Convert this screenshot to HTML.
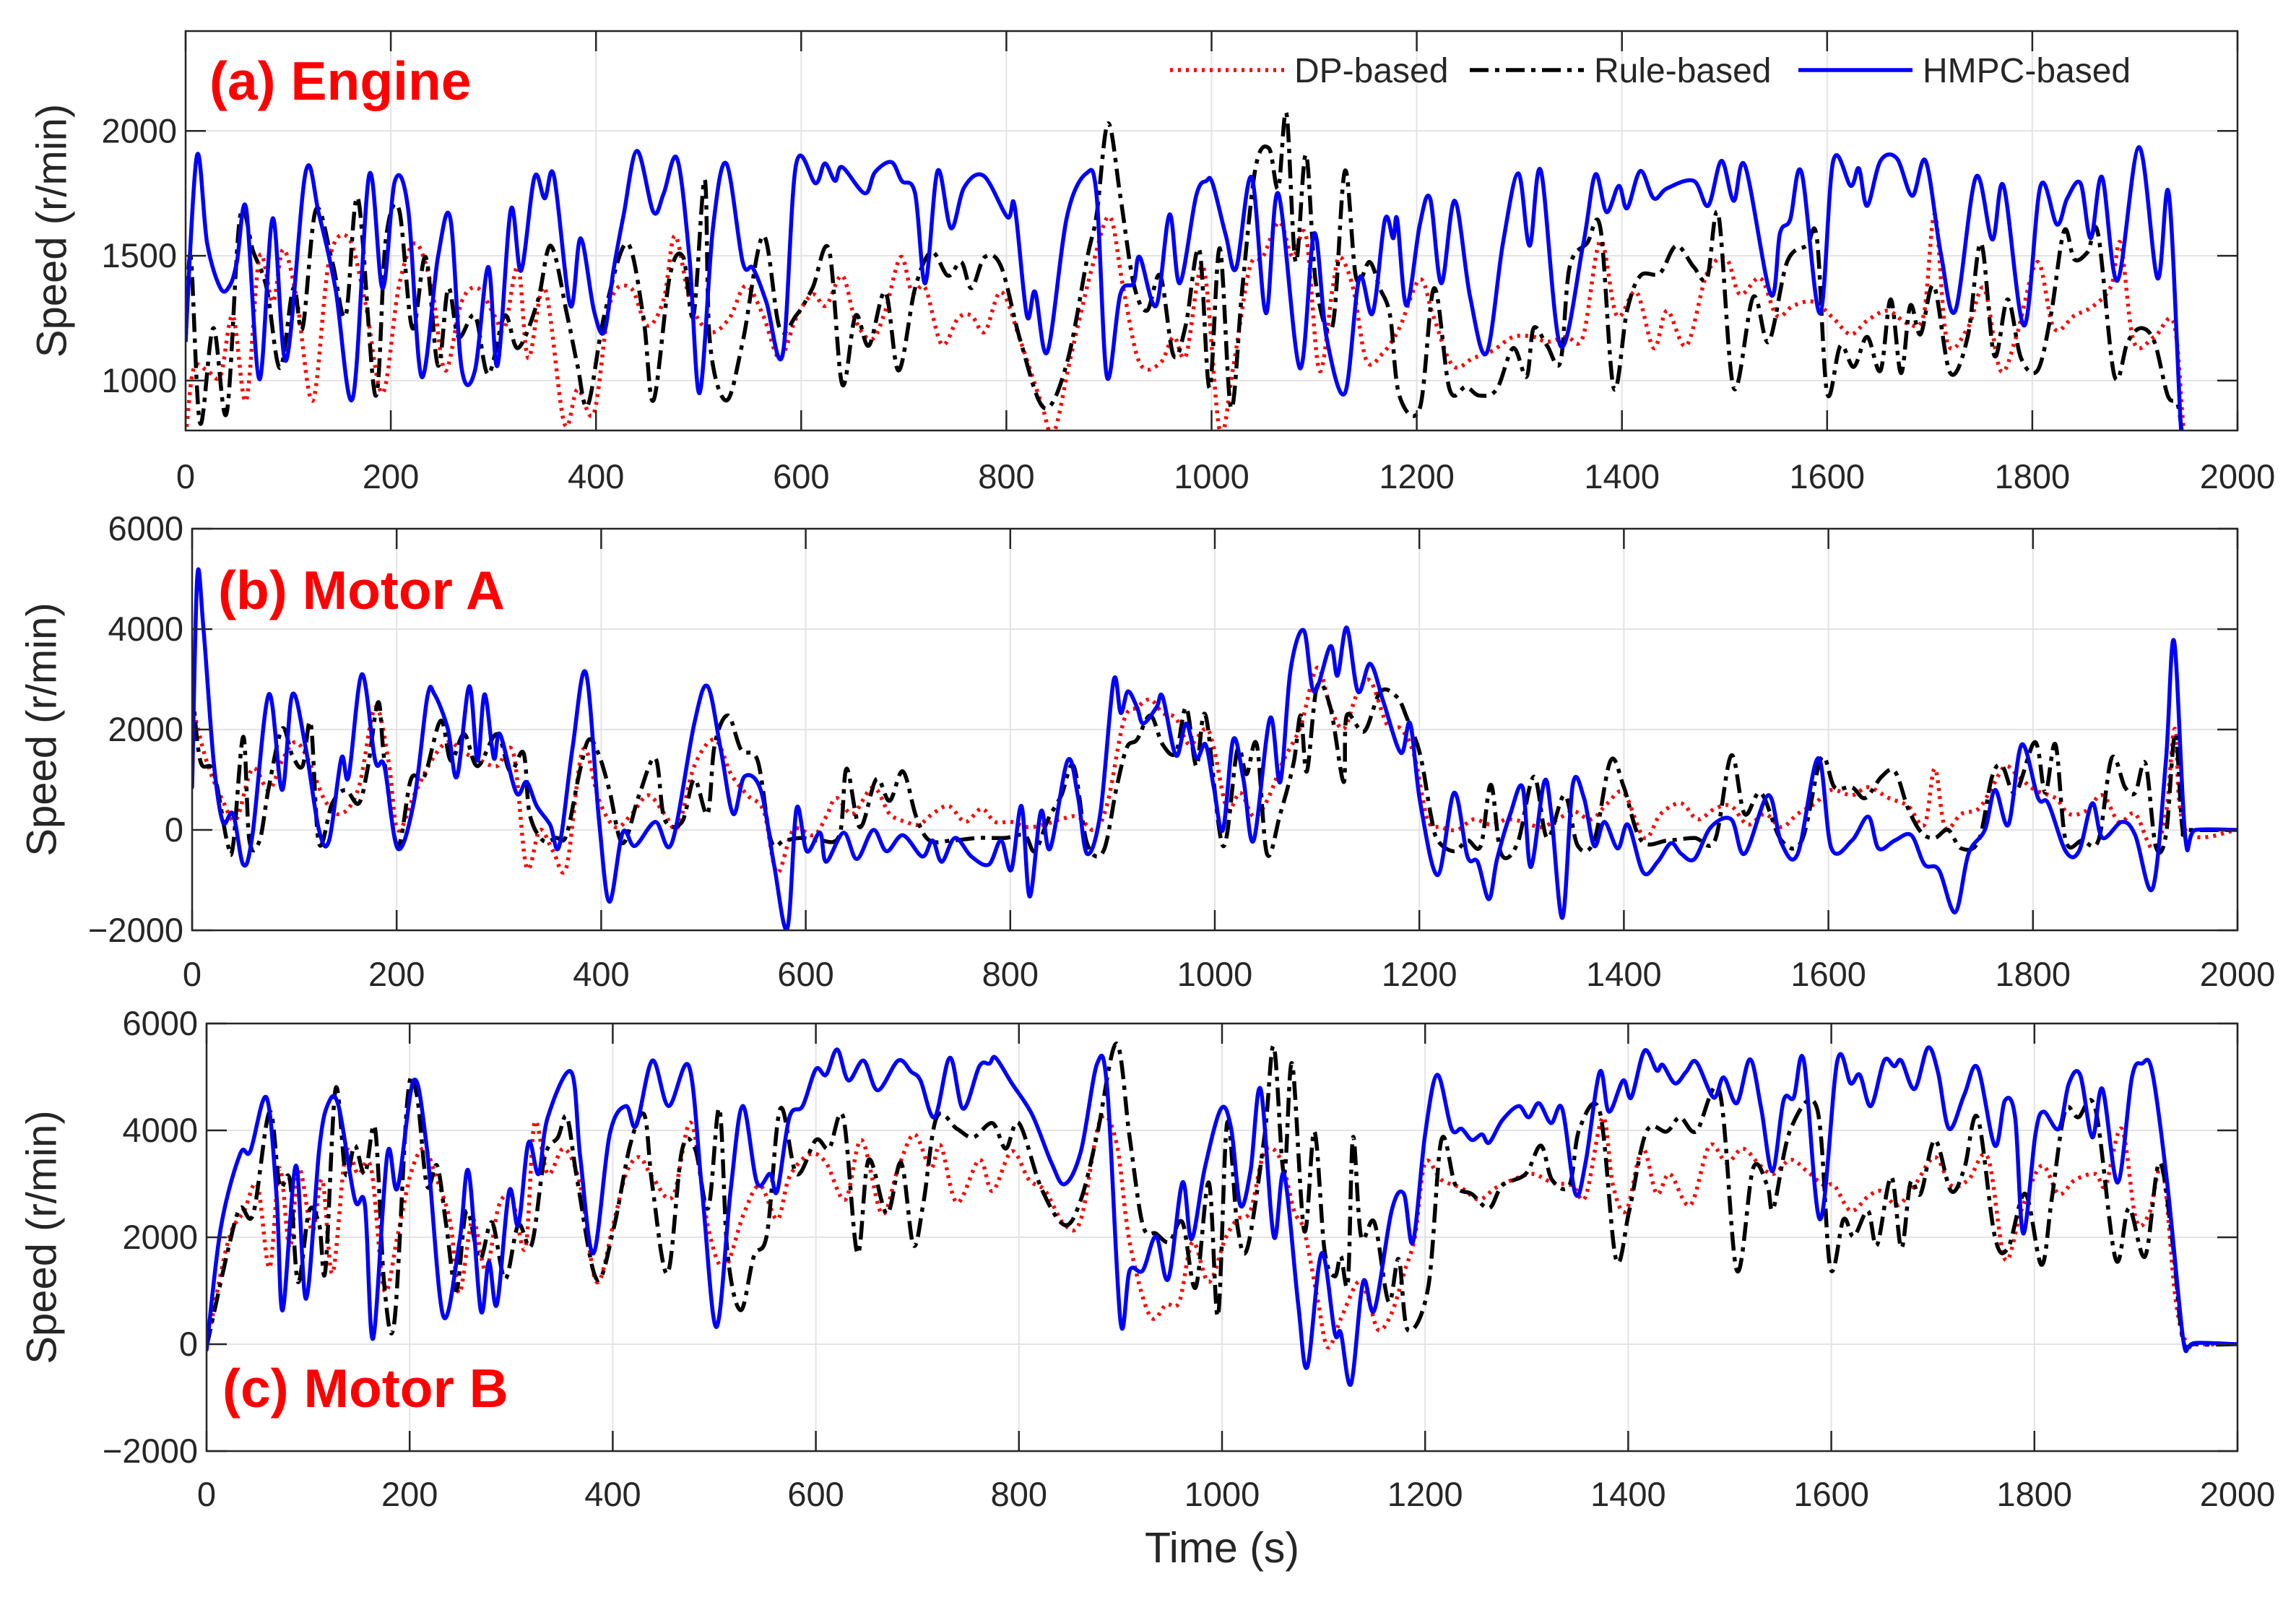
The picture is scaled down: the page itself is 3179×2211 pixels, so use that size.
<!DOCTYPE html>
<html><head><meta charset="utf-8"><style>
html,body{margin:0;padding:0;background:#fff;}
svg{display:block;font-family:"Liberation Sans",Arial,sans-serif;}
</style></head><body>
<svg id="fig" width="3179" height="2211" viewBox="0 0 3179 2211" xmlns="http://www.w3.org/2000/svg">
<rect width="3179" height="2211" fill="#fff"/>
</svg>
<script>
// ---------- data (time s, speed r/min) ----------
const xTicks = [0,200,400,600,800,1000,1200,1400,1600,1800,2000];
const engineTicks = [1000,1500,2000];
const motorTicks = [-2000,0,2000,4000,6000];
const seriesNames = ["DP-based","Rule-based","HMPC-based"];

const engineHMPC = [[0,1165],[11,1900],[21,1550],[34,1370],[43,1380],[50,1475],[59,1690],[72,1005],[85,1650],[98,1080],[117,1835],[130,1665],[146,1370],[163,930],[179,1825],[192,1370],[204,1800],[217,1685],[230,1015],[246,1495],[258,1650],[269,1050],[282,1040],[295,1455],[304,1060],[317,1685],[327,1440],[340,1815],[350,1730],[359,1820],[375,1300],[385,1570],[398,1280],[408,1195],[417,1440],[427,1665],[440,1920],[456,1675],[466,1750],[479,1890],[491,1495],[501,950],[514,1610],[527,1870],[543,1475],[553,1450],[566,1315],[582,1105],[595,1865],[614,1790],[623,1870],[633,1800],[640,1855],[662,1750],[672,1835],[688,1875],[698,1800],[711,1750],[721,1390],[733,1840],[746,1610],[759,1775],[778,1820],[801,1655],[808,1700],[820,1260],[828,1355],[840,1115],[859,1655],[878,1830],[888,1740],[898,1015],[911,1345],[924,1390],[930,1495],[946,1300],[959,1665],[969,1390],[985,1740],[995,1800],[1001,1790],[1014,1580],[1024,1450],[1039,1815],[1053,1270],[1065,1750],[1086,1050],[1100,1590],[1112,1175],[1130,950],[1144,1410],[1157,1270],[1169,1645],[1177,1570],[1181,1645],[1190,1300],[1203,1625],[1213,1730],[1224,1390],[1237,1720],[1252,1335],[1268,1110],[1284,1550],[1299,1830],[1310,1540],[1321,1840],[1340,1140],[1362,1540],[1374,1825],[1385,1675],[1397,1780],[1405,1690],[1418,1840],[1431,1730],[1444,1770],[1470,1800],[1484,1700],[1497,1880],[1509,1720],[1520,1860],[1545,1345],[1554,1590],[1564,1645],[1575,1835],[1593,1270],[1606,1880],[1623,1780],[1631,1850],[1639,1700],[1652,1880],[1668,1890],[1683,1740],[1696,1880],[1711,1505],[1725,1280],[1745,1815],[1761,1565],[1772,1780],[1792,1220],[1808,1780],[1824,1625],[1834,1730],[1847,1790],[1857,1570],[1868,1815],[1883,1400],[1904,1935],[1922,1410],[1933,1750],[1945,800],[1950,700]];
const engineRule = [[0,1155],[5,1495],[14,830],[27,1210],[40,870],[53,1655],[66,1515],[79,1370],[92,1050],[105,1370],[114,1210],[127,1685],[143,1475],[156,1260],[168,1730],[185,940],[195,1560],[208,1685],[221,1210],[234,1495],[246,1060],[256,1370],[266,1175],[282,1260],[295,1025],[311,1260],[324,1130],[343,1315],[356,1540],[372,1260],[382,1060],[392,900],[408,1260],[430,1550],[446,1260],[456,920],[472,1420],[485,1495],[495,1260],[506,1805],[511,1155],[527,920],[543,1155],[563,1580],[579,1210],[595,1260],[611,1370],[627,1525],[640,985],[653,1260],[666,1140],[682,1355],[695,1040],[711,1370],[727,1515],[743,1420],[756,1475],[766,1370],[779,1495],[795,1455],[814,1155],[837,890],[859,1070],[879,1495],[888,1665],[899,2030],[911,1740],[924,1390],[937,1280],[950,1420],[963,1100],[975,1225],[988,1525],[998,970],[1008,1530],[1019,890],[1030,1370],[1043,1855],[1056,1930],[1065,1770],[1073,2070],[1082,1475],[1092,1905],[1102,1380],[1118,1220],[1130,1840],[1141,1410],[1154,1475],[1164,1370],[1174,1260],[1183,940],[1203,890],[1217,1370],[1232,965],[1248,975],[1261,940],[1278,965],[1294,1130],[1307,1015],[1314,1210],[1327,1140],[1340,1075],[1349,1455],[1366,1550],[1379,1610],[1392,970],[1405,1280],[1418,1420],[1437,1430],[1453,1540],[1470,1455],[1483,1410],[1494,1665],[1509,970],[1528,1335],[1543,1155],[1561,1475],[1580,1540],[1590,1570],[1600,950],[1613,1140],[1626,1055],[1639,1175],[1652,1040],[1662,1325],[1672,1030],[1681,1300],[1691,1185],[1704,1380],[1720,1030],[1737,1175],[1750,1550],[1763,1100],[1776,1325],[1789,1090],[1805,1040],[1818,1260],[1831,1600],[1841,1485],[1854,1515],[1864,1590],[1880,1020],[1893,1155],[1906,1210],[1919,1155],[1932,940],[1942,900],[1948,700]];
const engineDP = [[1,815],[8,1050],[21,1040],[34,1020],[46,1260],[59,920],[72,1495],[85,1315],[95,1525],[108,1335],[124,920],[140,1485],[159,1570],[175,1315],[192,950],[208,1380],[224,1550],[240,1370],[253,1040],[269,1315],[285,1370],[301,1260],[311,1210],[324,1455],[334,1090],[350,1370],[369,830],[382,965],[398,870],[414,1315],[434,1370],[450,1220],[466,1325],[477,1580],[492,1315],[511,1195],[530,1250],[546,1380],[563,1260],[579,1090],[595,1250],[611,1345],[624,1300],[640,1420],[653,1240],[669,1165],[682,1280],[697,1495],[708,1355],[721,1370],[737,1145],[753,1250],[766,1260],[779,1195],[795,1355],[814,1155],[834,910],[846,790],[863,1100],[885,1475],[901,1655],[914,1370],[930,1070],[950,1070],[963,1175],[975,1100],[992,1455],[1008,800],[1021,1050],[1037,1450],[1050,1495],[1066,1635],[1079,1495],[1092,1580],[1105,1040],[1118,1370],[1125,1495],[1138,1370],[1151,1080],[1167,1110],[1183,1210],[1203,1405],[1216,1260],[1235,1060],[1255,1090],[1274,1120],[1294,1175],[1314,1175],[1327,1155],[1346,1175],[1362,1175],[1379,1560],[1395,1260],[1414,1355],[1431,1130],[1444,1280],[1463,1140],[1483,1430],[1502,1485],[1515,1345],[1535,1410],[1551,1260],[1567,1300],[1587,1315],[1606,1250],[1623,1185],[1639,1240],[1659,1280],[1678,1230],[1694,1260],[1705,1665],[1717,1155],[1737,1210],[1753,1370],[1769,1040],[1785,1185],[1805,1475],[1821,1210],[1841,1260],[1860,1300],[1877,1380],[1886,1550],[1899,1155],[1919,1175],[1938,1230],[1948,795],[1955,795],[2000,795]];

const motorAHMPC = [[0,850],[5,5035],[11,4030],[21,1380],[30,160],[40,320],[50,-690],[59,-105],[75,2700],[88,795],[98,2700],[111,1640],[124,0],[134,-210],[146,1430],[153,1060],[166,3100],[179,1380],[188,1270],[201,-370],[217,580],[230,2650],[237,2700],[250,2015],[259,1060],[271,2860],[279,1380],[286,2700],[295,1430],[301,1910],[317,740],[327,955],[337,475],[350,105],[359,-320],[372,1640],[385,3130],[398,160],[408,-1430],[421,-55],[433,-320],[453,160],[469,-265],[491,2120],[504,2860],[517,1590],[529,320],[540,1060],[556,795],[569,-690],[582,-1960],[591,425],[601,-425],[614,-55],[620,-635],[637,-55],[650,-580],[666,0],[679,-425],[695,-105],[714,-530],[724,-210],[733,-635],[746,-160],[762,-530],[779,-690],[791,-210],[801,-795],[811,475],[819,-1325],[830,370],[839,-370],[856,1380],[866,690],[875,-475],[888,320],[901,2970],[908,2330],[915,2760],[924,2440],[930,2120],[943,2440],[949,2650],[962,1480],[972,2120],[982,1430],[991,1700],[999,850],[1008,0],[1018,1800],[1028,1010],[1038,-210],[1054,2225],[1064,955],[1074,3180],[1087,3975],[1097,2755],[1113,3660],[1120,3075],[1129,4030],[1140,2755],[1152,3310],[1165,2545],[1182,1535],[1191,2120],[1201,530],[1218,-900],[1234,740],[1247,-530],[1257,-635],[1268,-1380],[1276,-580],[1289,320],[1301,850],[1309,-740],[1322,955],[1329,320],[1340,-1750],[1350,900],[1361,635],[1371,-320],[1381,160],[1394,-370],[1404,105],[1419,-850],[1433,-635],[1446,-265],[1456,-475],[1469,-580],[1485,55],[1505,210],[1518,-475],[1541,690],[1554,-265],[1570,-475],[1590,1430],[1603,-370],[1623,-210],[1639,265],[1649,-370],[1665,-210],[1681,-105],[1694,-690],[1708,-795],[1724,-1640],[1737,-475],[1753,0],[1763,795],[1776,105],[1789,1700],[1805,635],[1815,530],[1832,-425],[1845,-425],[1858,530],[1868,-160],[1887,160],[1900,-105],[1917,-1165],[1930,1380],[1938,3760],[1949,-160],[1959,0],[2000,0]];
const motorARule = [[0,2860],[8,1380],[21,1165],[34,-210],[40,-320],[50,1855],[56,-210],[66,-210],[75,850],[88,2015],[98,1480],[108,1270],[116,2120],[124,-265],[137,530],[150,795],[163,530],[172,1270],[182,2545],[188,1380],[201,-320],[214,1010],[227,1060],[243,2175],[253,1380],[266,1910],[279,1270],[298,1910],[311,1165],[324,1535],[330,320],[343,-210],[356,-160],[366,-105],[379,1165],[388,1800],[398,1480],[408,795],[421,-265],[437,690],[453,1430],[462,210],[479,160],[491,1010],[504,320],[511,1700],[524,2280],[537,1590],[553,1380],[566,-210],[579,-210],[595,-160],[614,-210],[633,-105],[640,1220],[653,55],[669,1010],[682,580],[695,1165],[708,265],[721,-210],[743,-210],[769,-160],[795,-160],[814,-105],[824,-425],[837,210],[850,690],[862,1270],[875,-265],[891,-425],[904,850],[914,1640],[924,1800],[937,2280],[949,1700],[962,1535],[972,2440],[982,1270],[991,2280],[1008,-320],[1022,1590],[1031,1110],[1041,1700],[1051,-475],[1064,320],[1077,1325],[1084,2280],[1090,1165],[1100,2860],[1113,2440],[1126,955],[1129,2280],[1146,1960],[1162,2755],[1178,2650],[1188,2225],[1201,1485],[1211,320],[1218,-210],[1234,-425],[1247,-210],[1260,-320],[1270,900],[1280,-475],[1296,-265],[1312,1060],[1325,-160],[1342,690],[1355,-320],[1371,-210],[1387,1380],[1400,850],[1417,-210],[1443,-210],[1469,-160],[1489,-210],[1505,1485],[1518,320],[1534,740],[1554,-210],[1574,-210],[1593,1430],[1606,850],[1623,850],[1636,635],[1652,1060],[1665,1165],[1678,425],[1691,-55],[1704,-160],[1717,0],[1730,-370],[1747,-210],[1760,1060],[1770,1270],[1783,740],[1802,1750],[1812,740],[1822,1700],[1832,-210],[1848,-210],[1864,-210],[1877,1430],[1890,850],[1900,740],[1910,1325],[1920,-320],[1930,-105],[1939,1910],[1946,55],[1952,0],[2000,0]];
const motorADP = [[0,2490],[14,1380],[30,580],[43,210],[59,1220],[75,795],[88,1380],[101,1750],[114,1380],[130,580],[146,320],[163,850],[179,2440],[192,1380],[201,0],[217,690],[234,1380],[250,1750],[266,1540],[282,1380],[298,1270],[314,1535],[327,-740],[340,0],[353,-425],[366,-740],[382,1590],[398,580],[414,55],[430,320],[446,690],[462,320],[475,55],[491,1270],[511,1800],[527,1110],[543,690],[559,370],[572,-850],[588,0],[608,-105],[620,265],[630,635],[646,320],[666,850],[682,320],[698,160],[711,105],[724,320],[740,475],[756,160],[772,425],[785,160],[801,160],[817,55],[833,105],[849,210],[866,265],[882,0],[895,530],[911,2175],[924,2440],[937,2600],[949,2330],[962,2225],[975,1700],[991,2015],[999,1640],[1012,425],[1025,740],[1038,265],[1051,580],[1067,1380],[1084,2070],[1100,3230],[1113,2440],[1126,2015],[1139,2700],[1152,2970],[1169,2070],[1182,2015],[1195,1485],[1208,210],[1221,55],[1237,0],[1253,210],[1270,105],[1286,210],[1302,160],[1319,55],[1335,210],[1351,370],[1368,210],[1384,530],[1400,740],[1420,-160],[1436,320],[1456,530],[1472,210],[1489,425],[1505,475],[1521,105],[1538,320],[1554,55],[1570,320],[1587,530],[1603,795],[1623,690],[1639,850],[1659,635],[1678,475],[1694,105],[1704,1220],[1714,55],[1730,320],[1747,425],[1760,850],[1773,1270],[1786,1060],[1802,795],[1822,635],[1835,320],[1851,370],[1868,690],[1884,160],[1900,320],[1917,-370],[1930,320],[1939,2015],[1949,0],[2000,0]];

const motorBHMPC = [[0,-105],[14,2175],[33,3555],[43,3610],[59,4615],[69,2760],[75,635],[88,3340],[98,850],[111,3660],[120,4510],[130,4455],[146,2705],[156,2600],[164,105],[178,3555],[188,2920],[204,4935],[217,3660],[233,530],[249,1910],[258,3235],[270,635],[278,1540],[286,745],[298,2865],[307,2230],[317,3770],[327,3185],[336,4245],[359,5095],[368,3500],[381,1700],[397,3925],[413,4455],[423,4085],[439,5305],[455,4455],[475,5200],[488,2865],[502,320],[516,2865],[528,4455],[542,3025],[555,3185],[562,2865],[574,4245],[587,4455],[600,5145],[610,5040],[621,5515],[632,4935],[647,5305],[661,4750],[681,5305],[694,5095],[703,4935],[717,4245],[732,5360],[745,4405],[761,5200],[771,5250],[777,5360],[793,4880],[813,4295],[832,3395],[845,2995],[861,3610],[877,5250],[887,4775],[900,425],[909,1380],[922,1380],[935,2015],[947,1220],[961,3025],[970,1965],[983,3290],[999,4405],[1009,4030],[1018,2600],[1028,3235],[1038,4775],[1051,2015],[1061,3185],[1075,745],[1084,-425],[1098,1700],[1111,210],[1117,210],[1127,-745],[1139,1165],[1150,635],[1167,2495],[1179,2815],[1188,1910],[1200,3925],[1212,5040],[1226,4030],[1236,4030],[1246,3820],[1256,3925],[1263,3770],[1276,4190],[1292,4455],[1302,4245],[1312,4510],[1324,4135],[1335,4405],[1348,2815],[1358,3395],[1372,5095],[1381,4350],[1395,4935],[1403,4615],[1416,5490],[1428,5120],[1434,5225],[1446,4880],[1457,5095],[1467,5280],[1484,4615],[1494,4990],[1507,4510],[1520,5330],[1531,4405],[1542,3235],[1553,4560],[1563,4615],[1573,5305],[1589,2335],[1606,5305],[1619,4880],[1628,5040],[1639,4455],[1652,5305],[1662,5200],[1669,5305],[1682,4775],[1695,5545],[1705,5095],[1716,4030],[1731,4670],[1744,5175],[1761,3715],[1771,4560],[1781,4245],[1789,2070],[1801,3925],[1809,4350],[1824,4030],[1834,4880],[1845,5040],[1857,3870],[1867,4775],[1882,3025],[1896,4990],[1906,5250],[1916,5095],[1931,2970],[1946,160],[1952,-55],[1959,25],[2000,0]];
const motorBRule = [[0,-55],[21,1750],[33,2545],[46,2440],[62,4350],[72,2970],[82,3075],[90,1165],[101,2495],[111,2230],[117,1380],[127,4775],[137,3185],[146,3715],[156,3185],[166,4030],[175,1115],[185,425],[198,4615],[207,4670],[217,2970],[227,3340],[236,2230],[246,1010],[256,2495],[269,1590],[281,2280],[294,1220],[307,2230],[320,1855],[333,3500],[346,3870],[355,4245],[365,3075],[384,1220],[401,2175],[417,3715],[431,4295],[439,2970],[454,1325],[468,3610],[481,3660],[494,2545],[505,4405],[513,1700],[526,635],[539,1645],[552,2070],[565,4405],[581,3185],[600,3820],[613,3660],[627,4245],[641,1700],[652,3450],[670,2440],[684,3395],[696,1855],[706,2650],[719,4245],[739,4030],[755,3870],[774,4135],[787,3660],[800,4135],[822,2920],[845,2230],[861,2705],[877,3925],[896,5625],[909,3870],[922,2230],[935,2070],[948,1910],[961,2280],[974,1060],[987,3025],[996,530],[1005,4135],[1015,2230],[1025,1800],[1042,3925],[1051,5570],[1061,3185],[1069,5250],[1081,2120],[1091,3980],[1101,1750],[1111,1270],[1117,1645],[1124,1165],[1129,3870],[1137,2015],[1150,2280],[1164,795],[1174,1590],[1183,265],[1203,1060],[1216,3820],[1230,2970],[1246,2810],[1263,2545],[1276,2970],[1299,3185],[1314,3715],[1325,3075],[1342,2970],[1352,4030],[1372,4350],[1388,1590],[1401,2495],[1418,3980],[1438,3980],[1451,4245],[1467,3980],[1490,4720],[1507,1380],[1523,3290],[1537,2970],[1543,2545],[1560,4030],[1586,4405],[1599,1430],[1612,2335],[1622,2015],[1636,2495],[1645,1855],[1659,3130],[1669,1800],[1678,3025],[1688,2815],[1702,3820],[1718,2865],[1731,3290],[1744,4245],[1761,2015],[1774,1800],[1791,2815],[1807,1485],[1817,2705],[1830,4350],[1843,4245],[1860,4405],[1880,1590],[1893,2545],[1909,1645],[1923,3395],[1936,1910],[1946,105],[1959,0],[2000,0]];
const motorBDP = [[0,-55],[21,1910],[37,2495],[50,2970],[62,1430],[72,3290],[82,1800],[91,3290],[104,2120],[114,3075],[124,1325],[137,3555],[149,3185],[162,3290],[175,1010],[188,2015],[201,3185],[214,3660],[227,3075],[240,2280],[249,955],[262,2335],[275,1380],[288,2600],[301,2705],[314,1800],[323,4140],[336,3185],[352,3660],[368,2970],[384,1165],[401,2280],[413,3185],[426,3500],[439,3130],[459,2760],[477,4140],[494,2175],[510,1430],[529,2440],[545,2970],[562,2335],[574,3130],[594,3555],[610,3395],[629,2705],[645,3820],[665,2440],[681,3290],[697,3925],[713,3290],[723,3715],[739,2650],[761,3450],[774,2865],[793,3610],[810,3075],[826,2865],[845,2230],[861,2335],[880,4190],[896,3770],[909,1910],[929,530],[945,740],[958,795],[971,1910],[987,1165],[1003,1965],[1015,2335],[1028,2495],[1042,3610],[1058,3450],[1071,2495],[1081,2120],[1094,850],[1104,-55],[1117,475],[1134,1165],[1144,850],[1154,265],[1167,580],[1180,1380],[1190,2015],[1200,3395],[1216,3075],[1236,2920],[1253,2705],[1269,2920],[1286,3075],[1306,3185],[1325,3025],[1345,2970],[1358,2760],[1375,4245],[1385,2970],[1398,2495],[1414,3660],[1428,2815],[1441,3185],[1461,2600],[1480,3715],[1497,3395],[1513,3660],[1530,3340],[1543,3185],[1560,3450],[1576,3235],[1593,2970],[1603,2970],[1619,2495],[1636,2760],[1649,2865],[1665,2600],[1682,2970],[1702,3500],[1718,2970],[1735,3075],[1754,3500],[1771,1590],[1787,2495],[1807,3340],[1824,2810],[1840,3075],[1860,3185],[1870,2970],[1886,4030],[1900,2335],[1913,2440],[1926,3290],[1939,850],[1949,55],[1959,0],[2000,0]];

// ---------- layout ----------
const NS = "http://www.w3.org/2000/svg";
const svg = document.getElementById("fig");
function mk(tag, attrs, parent){ const e=document.createElementNS(NS,tag); for(const k in attrs) e.setAttribute(k,attrs[k]); (parent||svg).appendChild(e); return e; }

function smoothPath(pts){
  if (!pts.length) return "";
  let d = "M" + pts[0][0].toFixed(1) + "," + pts[0][1].toFixed(1);
  for (let i = 0; i < pts.length - 1; i++) {
    const p0 = pts[i-1] || pts[i], p1 = pts[i], p2 = pts[i+1], p3 = pts[i+2] || p2;
    const c1x = p1[0] + (p2[0]-p0[0])/6, c1y = p1[1] + (p2[1]-p0[1])/6;
    const c2x = p2[0] - (p3[0]-p1[0])/6, c2y = p2[1] - (p3[1]-p1[1])/6;
    d += " C" + c1x.toFixed(1)+","+c1y.toFixed(1)+" "+c2x.toFixed(1)+","+c2y.toFixed(1)+" "+p2[0].toFixed(1)+","+p2[1].toFixed(1);
  }
  return d;
}

const panelDefs = [
  {id:"engine", left:257, right:3098, top:43, bottom:596, ymin:800, ymax:2400, yticks:engineTicks, grid:engineTicks, ylabX:72, xlabY:676, title:"(a) Engine", titleX:290, titleY:138,
   series:[engineDP, engineRule, engineHMPC]},
  {id:"motor-a", left:266, right:3098, top:732, bottom:1288, ymin:-2000, ymax:6000, yticks:motorTicks, grid:[0,2000,4000], ylabX:58, xlabY:1365, title:"(b) Motor A", titleX:302, titleY:843,
   series:[motorADP, motorARule, motorAHMPC]},
  {id:"motor-b", left:286, right:3098, top:1417, bottom:2009, ymin:-2000, ymax:6000, yticks:motorTicks, grid:[0,2000,4000], ylabX:58, xlabY:2085, title:"(c) Motor B", titleX:308, titleY:1948,
   series:[motorBDP, motorBRule, motorBHMPC]}
];
const styles = [
  {stroke:"#ff0000", width:5.5, dash:"4 7", cap:"butt", key:"dp"},
  {stroke:"#000000", width:5.5, dash:"26 9 6 9", cap:"butt", key:"rule"},
  {stroke:"#0000ff", width:5.5, dash:"", cap:"round", key:"hmpc"}
];

panelDefs.forEach((p, pi) => {
  const xS = t => p.left + (t/2000)*(p.right-p.left);
  const yS = v => p.bottom - (v-p.ymin)/(p.ymax-p.ymin)*(p.bottom-p.top);
  const g = mk("g", {});
  
  
  xTicks.forEach(t => {
    const l = mk("line", {x1:xS(t), x2:xS(t), y1:p.top, y2:p.bottom, stroke:"#e3e3e3", "stroke-width":2}, g);
    
    
  });
  p.grid.forEach(v => {
    const l = mk("line", {x1:p.left, x2:p.right, y1:yS(v), y2:yS(v), stroke:"#e3e3e3", "stroke-width":2}, g);
    
    
  });
  const cp = mk("clipPath", {id:"clip"+pi}, g);
  mk("rect", {x:p.left, y:p.top, width:p.right-p.left, height:p.bottom-p.top}, cp);
  p.series.forEach((data, si) => {
    const st = styles[si];
    const pts = data.map(d => [xS(d[0]), yS(d[1])]);
    const pl = mk("path", {d:smoothPath(pts), fill:"none", stroke:st.stroke, "stroke-width":st.width, "stroke-linejoin":"round", "stroke-linecap":st.cap, "clip-path":"url(#clip"+pi+")"}, g);
    if (st.dash) pl.setAttribute("stroke-dasharray", st.dash);
    
    
  });
  const box = mk("rect", {x:p.left, y:p.top, width:p.right-p.left, height:p.bottom-p.top, fill:"none", stroke:"#262626", "stroke-width":2.5}, g);
  
  
  xTicks.forEach(t => {
    mk("line", {x1:xS(t), x2:xS(t), y1:p.bottom, y2:p.bottom-28, stroke:"#262626", "stroke-width":2.5}, g);
    mk("line", {x1:xS(t), x2:xS(t), y1:p.top, y2:p.top+28, stroke:"#262626", "stroke-width":2.5}, g);
    const tx = mk("text", {x:xS(t), y:p.xlabY, "font-size":47, fill:"#262626", "text-anchor":"middle"}, g);
    tx.textContent = t;
    
    
  });
  p.yticks.forEach(v => {
    mk("line", {x1:p.left, x2:p.left+28, y1:yS(v), y2:yS(v), stroke:"#262626", "stroke-width":2.5}, g);
    mk("line", {x1:p.right, x2:p.right-28, y1:yS(v), y2:yS(v), stroke:"#262626", "stroke-width":2.5}, g);
    const tx = mk("text", {x:p.left-12, y:yS(v)+16, "font-size":47, fill:"#262626", "text-anchor":"end"}, g);
    tx.textContent = v < 0 ? "\u2212" + Math.abs(v) : String(v);
    
    
  });
  const cy = (p.top+p.bottom)/2;
  const yl = mk("text", {x:p.ylabX, y:cy, "font-size":58, fill:"#262626", "text-anchor":"middle", transform:"rotate(-90 "+p.ylabX+" "+cy+")", "dominant-baseline":"central"}, g);
  yl.textContent = "Speed (r/min)";
  
  
  const tt = mk("text", {x:p.titleX, y:p.titleY, "font-size":75, "font-weight":"bold", fill:"#ff0000"}, g);
  tt.textContent = p.title;
  
  
});

const xt = mk("text", {x:1692, y:2163, "font-size":59, fill:"#262626", "text-anchor":"middle"});
xt.textContent = "Time (s)";



const legend = mk("g", {});


const legX = [1620, 2035, 2490];
seriesNames.forEach((name, i) => {
  const st = styles[i];
  const ln = mk("line", {x1:legX[i], x2:legX[i]+158, y1:97, y2:97, stroke:st.stroke, "stroke-width":st.width}, legend);
  if (st.dash) ln.setAttribute("stroke-dasharray", st.dash);
  
  
  const tx = mk("text", {x:legX[i]+172, y:114, "font-size":48, fill:"#262626"}, legend);
  tx.textContent = name;
  
  
});
</script>
</body></html>
